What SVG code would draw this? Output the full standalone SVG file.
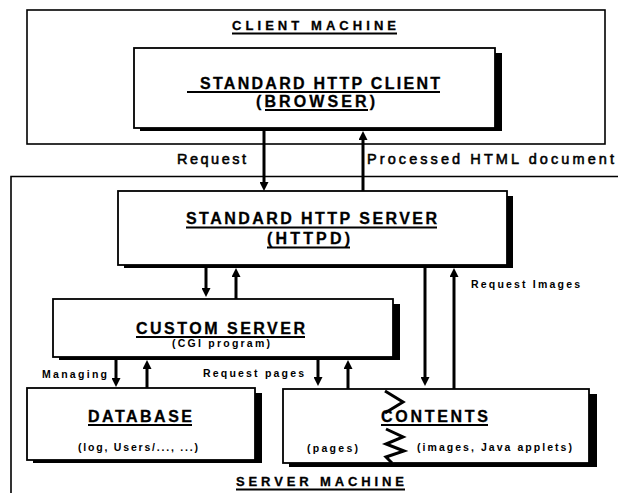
<svg xmlns="http://www.w3.org/2000/svg" width="618" height="493" viewBox="0 0 618 493">
  <style>
    .frame { fill: none; stroke: #000; stroke-width: 1.6; }
    .box { fill: #fff; stroke: #000; stroke-width: 1.8; }
    .shadow { fill: #000; }
    .head { font-family: "Liberation Sans", Arial, sans-serif; font-weight: bold; font-size: 16px; fill: #000; stroke: #000; stroke-width: 0.3; }
    .area { font-family: "Liberation Sans", Arial, sans-serif; font-weight: bold; font-size: 13px; fill: #000; stroke: #000; stroke-width: 0.3; }
    .label { font-family: "Liberation Sans", Arial, sans-serif; font-size: 14.5px; fill: #000; stroke: #000; stroke-width: 0.55; }
    .small { font-family: "Liberation Sans", Arial, sans-serif; font-weight: bold; font-size: 10.5px; fill: #000; }
    .ul { stroke: #000; stroke-width: 2; }
    .flow { stroke: #000; stroke-width: 3; fill: none; marker-end: url(#head); }
    .brk { stroke: #000; stroke-width: 3; fill: none; stroke-linejoin: miter; }
  </style>
  <defs>
    <marker id="head" viewBox="0 0 9 9" markerWidth="9" markerHeight="9" refX="1" refY="4.5" orient="auto" markerUnits="userSpaceOnUse">
      <path d="M0,0 L9,4.5 L0,9 z" fill="#000"/>
    </marker>
  </defs>

  <!-- client machine area -->
  <g id="client-machine">
    <rect class="frame" x="27" y="10" width="578" height="134"/>
    <text class="area" x="232" y="30" textLength="164" lengthAdjust="spacing">CLIENT MACHINE</text>
    <line class="ul" x1="232" y1="33.5" x2="397" y2="33.5"/>
  </g>

  <!-- server machine area: top and left border only -->
  <g id="server-machine">
    <polyline class="frame" points="618,176.5 11,176.5 11,493"/>
    <text class="area" x="236" y="486" textLength="168" lengthAdjust="spacing">SERVER MACHINE</text>
    <line class="ul" x1="236" y1="489.5" x2="405" y2="489.5"/>
  </g>

  <g id="http-client">
    <rect class="shadow" x="140" y="53" width="362" height="78"/>
    <rect class="box" x="134" y="48" width="361" height="80"/>
    <text class="head" x="200" y="89" textLength="240" lengthAdjust="spacing">STANDARD HTTP CLIENT</text>
    <line class="ul" x1="187" y1="92" x2="440" y2="92"/>
    <text class="head" x="256" y="107" textLength="119" lengthAdjust="spacing">(BROWSER)</text>
    <line class="ul" x1="265" y1="110" x2="368" y2="110"/>
  </g>

  <g id="http-server">
    <rect class="shadow" x="124" y="196" width="389" height="72"/>
    <rect class="box" x="118" y="191" width="389" height="74"/>
    <text class="head" x="186" y="224" textLength="251" lengthAdjust="spacing">STANDARD HTTP SERVER</text>
    <line class="ul" x1="186" y1="227.5" x2="437" y2="227.5"/>
    <text class="head" x="267" y="244" textLength="83" lengthAdjust="spacing">(HTTPD)</text>
    <line class="ul" x1="267" y1="247.5" x2="350" y2="247.5"/>
  </g>

  <g id="custom-server">
    <rect class="shadow" x="59" y="304" width="341" height="56"/>
    <rect class="box" x="53" y="299" width="340" height="58"/>
    <text class="head" x="136" y="334" textLength="169" lengthAdjust="spacing">CUSTOM SERVER</text>
    <line class="ul" x1="136" y1="337" x2="305" y2="337"/>
    <text class="small" x="172" y="347" textLength="98" lengthAdjust="spacing">(CGI program)</text>
  </g>

  <g id="database">
    <rect class="shadow" x="33" y="393" width="229" height="70"/>
    <rect class="box" x="27" y="388" width="228" height="72"/>
    <text class="head" x="88" y="422" textLength="104" lengthAdjust="spacing">DATABASE</text>
    <line class="ul" x1="88" y1="425" x2="192" y2="425"/>
    <text class="small" x="78" y="451" textLength="120" lengthAdjust="spacing">(log, Users/..., ...)</text>
  </g>

  <g id="contents">
    <rect class="shadow" x="289" y="394" width="308" height="73"/>
    <rect class="box" x="283" y="389" width="306" height="74"/>
    <text class="head" x="381" y="422" textLength="107" lengthAdjust="spacing">CONTENTS</text>
    <line class="ul" x1="381" y1="425" x2="488" y2="425"/>
    <text class="small" x="307" y="452" textLength="51" lengthAdjust="spacing">(pages)</text>
    <text class="small" x="417" y="451" textLength="155" lengthAdjust="spacing">(images, Java applets)</text>
    <!-- break marks separating pages from images -->
    <polyline class="brk" points="385,391 403,402 385,413"/>
    <polyline class="brk" points="386,429 403,437 386,444 404,451 386,457 392,463"/>
  </g>

  <!-- connectors -->
  <g id="connectors">
    <line class="flow" x1="264" y1="131" x2="264" y2="183"/>
    <line class="flow" x1="363" y1="191" x2="363" y2="139"/>
    <line class="flow" x1="206" y1="268" x2="206" y2="289"/>
    <line class="flow" x1="236" y1="299" x2="236" y2="276"/>
    <line class="flow" x1="116" y1="360" x2="116" y2="379"/>
    <line class="flow" x1="147" y1="388" x2="147" y2="368"/>
    <line class="flow" x1="318" y1="360" x2="318" y2="378"/>
    <line class="flow" x1="348" y1="389" x2="348" y2="368"/>
    <line class="flow" x1="425" y1="268" x2="425" y2="378"/>
    <line class="flow" x1="454" y1="389" x2="454" y2="276"/>
    <text class="label" x="177" y="164" textLength="69" lengthAdjust="spacing">Request</text>
    <text class="label" x="367" y="164" textLength="247" lengthAdjust="spacing">Processed HTML document</text>
    <text class="small" x="471" y="288" textLength="109" lengthAdjust="spacing">Request Images</text>
    <text class="small" x="42" y="378" textLength="65" lengthAdjust="spacing">Managing</text>
    <text class="small" x="203" y="377" textLength="101" lengthAdjust="spacing">Request pages</text>
  </g>
</svg>
